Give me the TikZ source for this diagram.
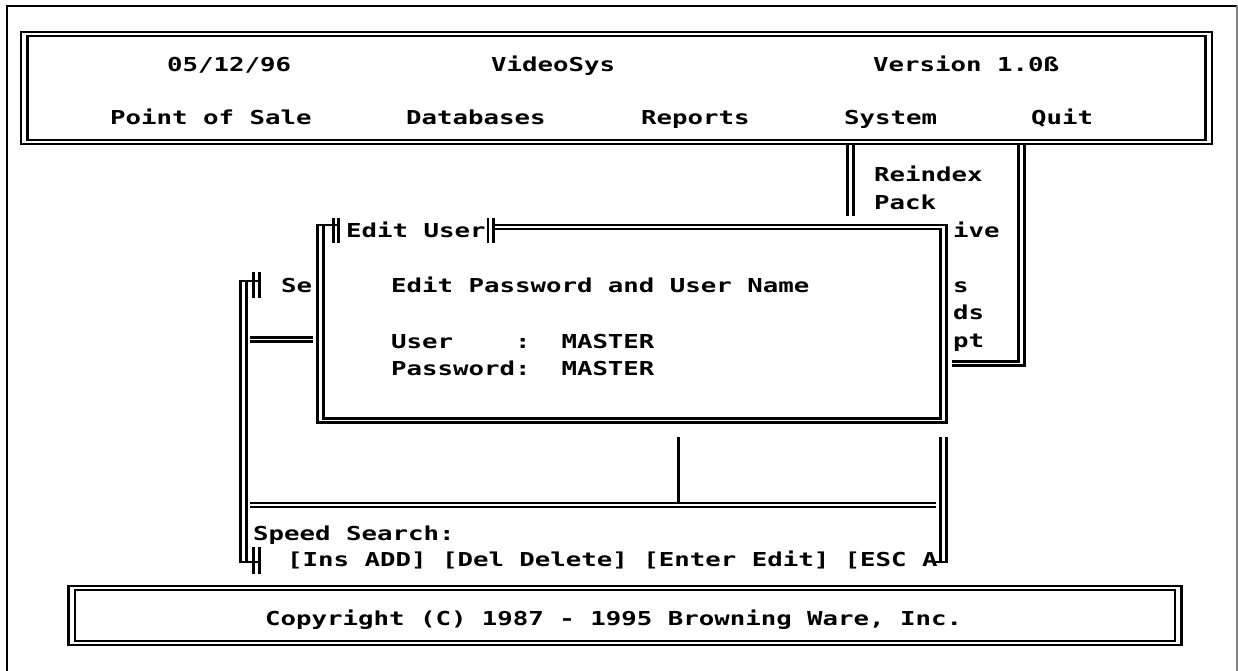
\documentclass[tikz,border=0pt]{standalone}
\usepackage{fontspec}
\newfontfamily\dosfont[FakeStretch=1.34]{DejaVu Sans Mono}
\begin{document}
\begin{tikzpicture}[x=1pt,y=-1pt,line width=2.3pt,
    dos/.style={anchor=base west,inner sep=0pt,font=\dosfont\bfseries\fontsize{19.2}{27.5}\selectfont}]
    \useasboundingbox (0,0) rectangle (1238,671);
    \fill[white] (0,0) rectangle (1238,671);
    \draw[line width=2.4pt] (7,671) -- (7,6) -- (1237,6);
    \draw[gray,line width=1.2pt] (1237,6) -- (1237,671);
    % header bar
    \draw[line width=2.6pt] (21,32) rectangle (1212,144);
    \draw (27.5,36) rectangle (1205.5,140);
    \node[dos] (date) at (166,72) {05/12/96};
    \node[dos] (appname) at (490,72) {VideoSys};
    \node[dos] (version) at (872,72) {Version 1.0ß};
    \node[dos] (possale) at (109,125) {Point of Sale};
    \node[dos] (databases) at (405,125) {Databases};
    \node[dos] (reports) at (640,125) {Reports};
    \node[dos] (system) at (843,125) {System};
    \node[dos] (quit) at (1030,125) {Quit};
    % system menu
    \draw (847.5,144) -- (847.5,216) (853.5,144) -- (853.5,216);
    \draw (1024.5,144) -- (1024.5,365.5) -- (952,365.5);
    \draw (1018.5,144) -- (1018.5,361.5) -- (952,361.5);
    \node[dos] (reindex) at (873,182) {Reindex};
    \node[dos] (pack) at (873,209) {Pack};
    \node[dos] (archive) at (952,237) {ive};
    \node[dos] (users) at (952,292) {s};
    \node[dos] (passwords) at (952,319) {ds};
    \node[dos] (prompt) at (952,347) {pt};
    % browse window
    \draw (259.5,281) -- (240.5,281) -- (240.5,562) -- (259.5,562);
    \draw (246.5,281) -- (246.5,562);
    \draw (253.5,272) -- (253.5,298) (259.5,272) -- (259.5,298);
    \draw (253.5,547) -- (253.5,574) (259.5,547) -- (259.5,574);
    \draw (250,337.5) -- (313,337.5) (250,341.5) -- (313,341.5);
    \draw (250,503) -- (936,503) (250,507) -- (936,507);
    \draw (678.5,437) -- (678.5,503);
    \draw (932,562) -- (946.5,562) -- (946.5,437) (940.5,437) -- (940.5,562);
    \node[dos] (browse) at (280,292) {Se};
    \node[dos] (speed) at (252,540) {Speed Search:};
    \node[dos] (keys) at (286,566) {[Ins ADD] [Del Delete] [Enter Edit] [ESC A};
    % edit user dialog
    \draw (493.5,225) -- (946.5,225) -- (946.5,422.5) -- (317.5,422.5) -- (317.5,225) -- (338.5,225);
    \draw (493.5,229) -- (940.5,229) -- (940.5,418.5) -- (323.5,418.5) -- (323.5,225);
    \draw (333.5,218) -- (333.5,243) (338.5,218) -- (338.5,243);
    \draw (488,218) -- (488,243) (493.5,218) -- (493.5,243);
    \node[dos] (edituser) at (345,237) {Edit User};
    \node[dos] (editpw) at (390,292) {Edit Password and User Name};
    \node[dos] (username) at (390,348) {User\ \ \ \ :\ \ MASTER};
    \node[dos] (password) at (390,375) {Password:\ \ MASTER};
    % footer bar
    \draw[line width=2.6pt] (68.5,586) rectangle (1181.5,645);
    \draw (75,590) rectangle (1175,641);
    \node[dos] (copyright) at (264,625) {Copyright (C) 1987 - 1995 Browning Ware, Inc.};
\end{tikzpicture}
\end{document}
